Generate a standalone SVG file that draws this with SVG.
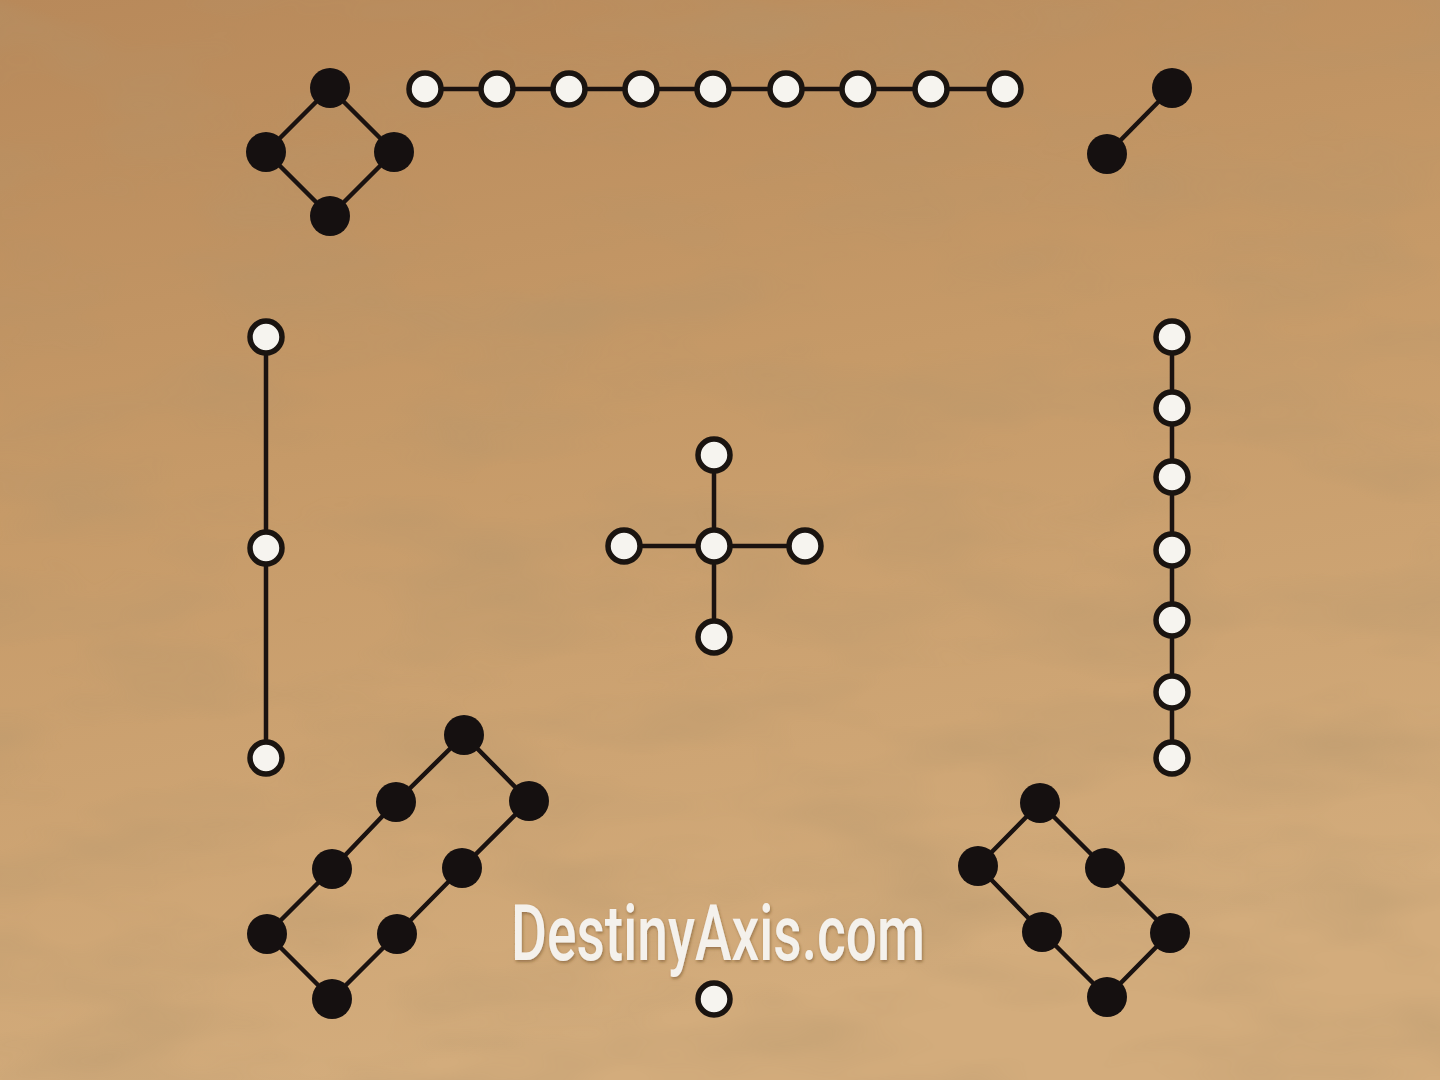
<svg xmlns="http://www.w3.org/2000/svg" width="1440" height="1080" viewBox="0 0 1440 1080">
<defs>
<linearGradient id="bg" x1="0" y1="0" x2="0.25" y2="1">
<stop offset="0" stop-color="#b8895a"/>
<stop offset="0.45" stop-color="#c69a68"/>
<stop offset="1" stop-color="#d3ac7c"/>
</linearGradient>
<filter id="tex" x="0" y="0" width="100%" height="100%">
<feTurbulence type="fractalNoise" baseFrequency="0.005 0.014" numOctaves="3" seed="7" result="n"/>
<feColorMatrix in="n" type="matrix" values="0 0 0 0 0.45  0 0 0 0 0.3  0 0 0 0 0.15  0 0 0 -2 1.2"/>
</filter>
<filter id="sh" x="-5%" y="-5%" width="110%" height="120%">
<feDropShadow dx="1" dy="2" stdDeviation="1.5" flood-color="#5a3a1a" flood-opacity="0.45"/>
</filter>
<style>
.ln{stroke:#1a1210;stroke-width:4.5;fill:none;stroke-linejoin:round}
.b{fill:#151010}
.w{fill:#f6f4ef;stroke:#1a1410;stroke-width:5.5}
.t{font-family:Roboto,"Liberation Sans",sans-serif;font-size:77px;font-weight:500;fill:#f4f1ec}
</style>
</defs>
<rect width="1440" height="1080" fill="url(#bg)"/>
<rect width="1440" height="1080" filter="url(#tex)" opacity="0.4"/>

<g id="connectors">
<path class="ln" d="M330 88 L394 152 L330 216 L266 152 Z"/>
<path class="ln" d="M425 89 H1005"/>
<path class="ln" d="M1172 88 L1107 154"/>
<path class="ln" d="M266 337 V758"/>
<path class="ln" d="M714 455 V637 M624 546 H805"/>
<path class="ln" d="M1172 337 V758"/>
<path class="ln" d="M464 735 L396 802 L332 869 L267 934 L332 999 L397 934 L462 868 L529 801 Z"/>
<path class="ln" d="M1040 803 L1105 868 L1170 933 L1107 997 L1042 932 L978 866 Z"/>
</g>

<g id="n4-top-left">
<circle class="b" cx="330" cy="88" r="20"/>
<circle class="b" cx="266" cy="152" r="20"/>
<circle class="b" cx="394" cy="152" r="20"/>
<circle class="b" cx="330" cy="216" r="20"/>
</g>
<g id="n9-top">
<circle class="w" cx="425" cy="89" r="16"/>
<circle class="w" cx="497" cy="89" r="16"/>
<circle class="w" cx="569" cy="89" r="16"/>
<circle class="w" cx="641" cy="89" r="16"/>
<circle class="w" cx="713" cy="89" r="16"/>
<circle class="w" cx="786" cy="89" r="16"/>
<circle class="w" cx="858" cy="89" r="16"/>
<circle class="w" cx="931" cy="89" r="16"/>
<circle class="w" cx="1005" cy="89" r="16"/>
</g>
<g id="n2-top-right">
<circle class="b" cx="1172" cy="88" r="20"/>
<circle class="b" cx="1107" cy="154" r="20"/>
</g>
<g id="n3-left">
<circle class="w" cx="266" cy="337" r="16"/>
<circle class="w" cx="266" cy="548" r="16"/>
<circle class="w" cx="266" cy="758" r="16"/>
</g>
<g id="n5-center">
<circle class="w" cx="714" cy="455" r="16"/>
<circle class="w" cx="624" cy="546" r="16"/>
<circle class="w" cx="714" cy="546" r="16"/>
<circle class="w" cx="805" cy="546" r="16"/>
<circle class="w" cx="714" cy="637" r="16"/>
</g>
<g id="n7-right">
<circle class="w" cx="1172" cy="337" r="16"/>
<circle class="w" cx="1172" cy="408" r="16"/>
<circle class="w" cx="1172" cy="477" r="16"/>
<circle class="w" cx="1172" cy="550" r="16"/>
<circle class="w" cx="1172" cy="620" r="16"/>
<circle class="w" cx="1172" cy="692" r="16"/>
<circle class="w" cx="1172" cy="758" r="16"/>
</g>
<g id="n8-bottom-left">
<circle class="b" cx="464" cy="735" r="20"/>
<circle class="b" cx="529" cy="801" r="20"/>
<circle class="b" cx="396" cy="802" r="20"/>
<circle class="b" cx="332" cy="869" r="20"/>
<circle class="b" cx="462" cy="868" r="20"/>
<circle class="b" cx="267" cy="934" r="20"/>
<circle class="b" cx="397" cy="934" r="20"/>
<circle class="b" cx="332" cy="999" r="20"/>
</g>
<g id="n6-bottom-right">
<circle class="b" cx="1040" cy="803" r="20"/>
<circle class="b" cx="978" cy="866" r="20"/>
<circle class="b" cx="1105" cy="868" r="20"/>
<circle class="b" cx="1042" cy="932" r="20"/>
<circle class="b" cx="1170" cy="933" r="20"/>
<circle class="b" cx="1107" cy="997" r="20"/>
</g>
<g id="n1-bottom">
<circle class="w" cx="714" cy="999" r="16"/>
</g>
<g id="watermark">
<text class="t" x="511" y="960" textLength="414" lengthAdjust="spacingAndGlyphs" filter="url(#sh)">DestinyAxis.com</text>
</g>
</svg>
